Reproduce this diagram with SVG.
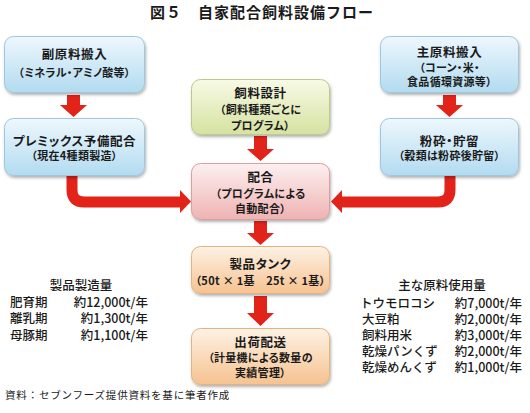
<svg xmlns="http://www.w3.org/2000/svg" width="530" height="413" viewBox="0 0 530 413">
<style>
text{font-family:"Noto Sans CJK JP","Noto Sans",sans-serif;fill:#1a1a1a}
.title{font-size:15px;font-weight:bold;letter-spacing:1px}
.h{font-size:12.5px;font-weight:bold;text-anchor:middle;letter-spacing:0.6px;font-feature-settings:"palt"}
.s{font-size:11px;font-weight:bold;text-anchor:middle;letter-spacing:0.3px;font-feature-settings:"palt"}
.st{font-size:12.5px;font-weight:500}
.mid{text-anchor:middle}
.end{text-anchor:end}
.foot{font-size:10.5px;letter-spacing:0.8px}
.arrow{fill:#e2231a}
.elbow{fill:none;stroke:#e2231a;stroke-width:11}
</style>
<defs>
<linearGradient id="gBlue" x1="0" y1="0" x2="0" y2="1"><stop offset="0" stop-color="#eef7fd"/><stop offset="1" stop-color="#b2dbf0"/></linearGradient>
<linearGradient id="gGreen" x1="0" y1="0" x2="0" y2="1"><stop offset="0" stop-color="#f8fae6"/><stop offset="1" stop-color="#d5e2a0"/></linearGradient>
<linearGradient id="gPink" x1="0" y1="0" x2="0" y2="1"><stop offset="0" stop-color="#fdf0f0"/><stop offset="1" stop-color="#efb2b2"/></linearGradient>
<linearGradient id="gOrange" x1="0" y1="0" x2="0" y2="1"><stop offset="0" stop-color="#fdf2e4"/><stop offset="1" stop-color="#f6c290"/></linearGradient>
<filter id="sh" x="-10%" y="-10%" width="125%" height="130%"><feDropShadow dx="1" dy="2" stdDeviation="1.5" flood-color="#000" flood-opacity="0.3"/></filter>
</defs>
<rect width="530" height="413" fill="#fff"/>
<text class="title" x="262" y="18" text-anchor="middle">図５　自家配合飼料設備フロー</text>

<g id="connectors">
<polygon class="arrow" points="67,95 80,95 80,105 87,105 73.5,117 60,105 67,105"/>
<polygon class="arrow" points="443,95 456,95 456,105 463,105 449.5,117 436,105 443,105"/>
<polygon class="arrow" points="254,136 267,136 267,149 274,149 260.5,161 247,149 254,149"/>
<polygon class="arrow" points="254,221 267,221 267,233 274,233 260.5,245 247,233 254,233"/>
<polygon class="arrow" points="254,296 267,296 267,313 274,313 260.5,326 247,313 254,313"/>
<path class="elbow" d="M72,176 V190 Q72,202 84,202 H181"/>
<polygon class="arrow" points="180,190 191,201.5 180,213"/>
<path class="elbow" d="M450,176 V190 Q450,202 438,202 H341"/>
<polygon class="arrow" points="342,190 331,201.5 342,213"/>
</g>

<g id="n1"><rect x="4.5" y="36.5" width="140" height="56" rx="9" fill="url(#gBlue)" stroke="#9ec8df" filter="url(#sh)"/>
<text class="h" x="74.5" y="58.5">副原料搬入</text><text class="s" x="74.5" y="77">（ミネラル・アミノ酸等）</text></g>
<g id="n2"><rect x="4.5" y="118.5" width="140" height="57" rx="9" fill="url(#gBlue)" stroke="#9ec8df" filter="url(#sh)"/>
<text class="h" x="74.5" y="146">プレミックス予備配合</text><text class="s" x="74.5" y="160">（現在4種類製造）</text></g>
<g id="n3"><rect x="191.5" y="79.5" width="138" height="55" rx="9" fill="url(#gGreen)" stroke="#bccb8a" filter="url(#sh)"/>
<text class="h" x="260.5" y="98">飼料設計</text><text class="s" x="260.5" y="114">（飼料種類ごとに</text><text class="s" x="260.5" y="130">プログラム）</text></g>
<g id="n4"><rect x="380.5" y="36.5" width="138" height="56" rx="9" fill="url(#gBlue)" stroke="#9ec8df" filter="url(#sh)"/>
<text class="h" x="449.5" y="57">主原料搬入</text><text class="s" x="449.5" y="71.5">（コーン・米・</text><text class="s" x="449.5" y="85.5">食品循環資源等）</text></g>
<g id="n5"><rect x="380.5" y="118.5" width="138" height="57" rx="9" fill="url(#gBlue)" stroke="#9ec8df" filter="url(#sh)"/>
<text class="h" x="449.5" y="146">粉砕・貯留</text><text class="s" x="449.5" y="160">（穀類は粉砕後貯留）</text></g>
<g id="n6"><rect x="191.5" y="163.5" width="138" height="56" rx="9" fill="url(#gPink)" stroke="#d9a0a0" filter="url(#sh)"/>
<text class="h" x="260.5" y="181.5">配合</text><text class="s" x="260.5" y="197.5">（プログラムによる</text><text class="s" x="260.5" y="212.5">自動配合）</text></g>
<g id="n7"><rect x="191.5" y="246.5" width="138" height="47" rx="9" fill="url(#gOrange)" stroke="#e3b482" filter="url(#sh)"/>
<text class="h" x="260.5" y="269">製品タンク</text><text class="s" x="260.5" y="285">（50t × 1基　25t × 1基）</text></g>
<g id="n8"><rect x="191.5" y="328.5" width="138" height="56" rx="9" fill="url(#gOrange)" stroke="#e3b482" filter="url(#sh)"/>
<text class="h" x="260.5" y="346.5">出荷配送</text><text class="s" x="260.5" y="362">（計量機による数量の</text><text class="s" x="260.5" y="376.5">実績管理）</text></g>

<g id="left-stats">
<text class="st mid" x="81" y="289.5">製品製造量</text>
<text class="st" x="10" y="306.5">肥育期</text><text class="st end" x="148" y="306.5">約12,000t/年</text>
<text class="st" x="10" y="323">離乳期</text><text class="st end" x="148" y="323">約1,300t/年</text>
<text class="st" x="10" y="339.5">母豚期</text><text class="st end" x="148" y="339.5">約1,100t/年</text>
</g>
<g id="right-stats">
<text class="st mid" x="442" y="289.5">主な原料使用量</text>
<text class="st" x="360" y="307.5">トウモロコシ</text><text class="st end" x="522" y="307.5">約7,000t/年</text>
<text class="st" x="362" y="323.5">大豆粕</text><text class="st end" x="522" y="323.5">約2,000t/年</text>
<text class="st" x="362" y="339.5">飼料用米</text><text class="st end" x="522" y="339.5">約3,000t/年</text>
<text class="st" x="362" y="355.5">乾燥パンくず</text><text class="st end" x="522" y="355.5">約2,000t/年</text>
<text class="st" x="362" y="371.5">乾燥めんくず</text><text class="st end" x="522" y="371.5">約1,000t/年</text>
</g>
<text class="foot" x="5" y="399">資料：セブンフーズ提供資料を基に筆者作成</text>
</svg>
